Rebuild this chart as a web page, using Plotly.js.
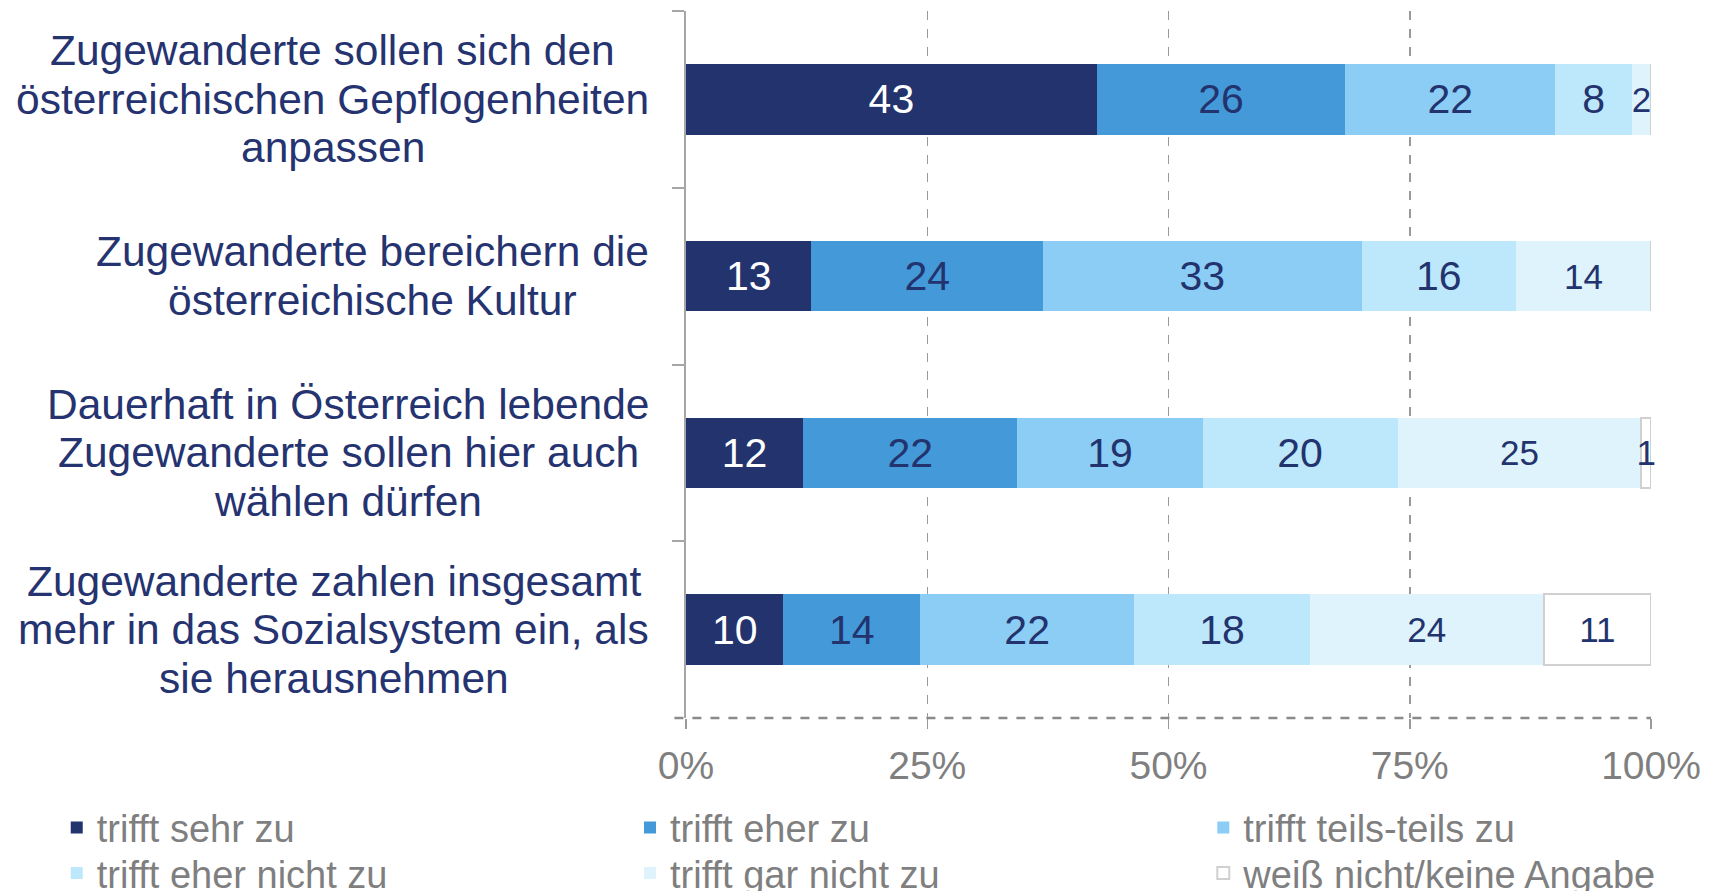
<!DOCTYPE html>
<html>
<head>
<meta charset="utf-8">
<script src="https://cdn.plot.ly/plotly-3.0.1.min.js"></script>
<style>html,body{margin:0;padding:0;background:#fff;}#chart{width:1719px;height:891px;}</style>
</head>
<body>
<div id="chart"></div>
<script>
const categories = [
  "Zugewanderte sollen sich den<br>österreichischen Gepflogenheiten<br>anpassen",
  "Zugewanderte bereichern die<br>österreichische Kultur",
  "Dauerhaft in Österreich lebende<br>Zugewanderte sollen hier auch<br>wählen dürfen",
  "Zugewanderte zahlen insgesamt<br>mehr in das Sozialsystem ein, als<br>sie herausnehmen"
];
const seriesNames = ["trifft sehr zu", "trifft eher zu", "trifft teils-teils zu", "trifft eher nicht zu", "trifft gar nicht zu", "weiß nicht/keine Angabe"];
const sehrZu      = [43, 13, 12, 10];
const eherZu      = [26, 24, 22, 14];
const teilsTeils  = [22, 33, 19, 22];
const eherNicht   = [8, 16, 20, 18];
const garNicht    = [2, 14, 25, 24];
const weissNicht  = [0, 0, 1, 11];
const xTickVals   = [0, 25, 50, 75, 100];
const xTickText   = ["0%", "25%", "50%", "75%", "100%"];

const allSeries = [sehrZu, eherZu, teilsTeils, eherNicht, garNicht, weissNicht];
const fills = ["#22336e", "#4499d9", "#8bcdf5", "#bde7fb", "#def3fc", "#ffffff"];
const lineCols = ["#22336e", "#4499d9", "#8bcdf5", "#bde7fb", "#def3fc", "#d0d0d0"];
const lineW = [0, 0, 0, 0, 0, 2];
const txtCols = ["#ffffff", "#22336e", "#22336e", "#22336e", "#22336e", "#22336e"];
const txtSizes = [41, 41, 41, 41, 35, 35];
const FONT = "Liberation Sans, Arial, sans-serif";
const CAT_SIZE = 42.5;

// legend placement: 3 columns x 2 rows, one legend per series
const legendIds = ["legend", "legend2", "legend3", "legend4", "legend5", "legend6"];
const legX = [0.033, 0.3665, 0.700, 0.033, 0.3665, 0.700];
const legY = [0.071, 0.071, 0.071, 0.020, 0.020, 0.020];

const traces = allSeries.map((vals, i) => {
  const f = {family: FONT, size: txtSizes[i], color: txtCols[i]};
  return {
    type: "bar",
    orientation: "h",
    name: seriesNames[i],
    legend: legendIds[i],
    y: categories,
    x: vals,
    text: vals.map(v => v ? String(v) : ""),
    texttemplate: "%{text}",
    textposition: "inside",
    insidetextanchor: "middle",
    textangle: 0,
    constraintext: "none",
    cliponaxis: false,
    textfont: f,
    insidetextfont: f,
    outsidetextfont: f,
    marker: {color: fills[i], line: {color: lineCols[i], width: lineW[i]}},
    hoverinfo: "skip"
  };
});

// category labels: one annotation per line (centered lines, block right-aligned)
const cv = document.createElement("canvas").getContext("2d");
cv.font = CAT_SIZE + "px 'Liberation Sans'";
const LINE_H = 48.6;
const annotations = [];
categories.forEach(c => {
  const lines = c.split("<br>");
  const maxW = Math.max(...lines.map(l => cv.measureText(l).width));
  lines.forEach((ln, k) => {
    annotations.push({
      xref: "paper", yref: "y", x: -0.038, y: c,
      xanchor: "center", yanchor: "middle", align: "center",
      xshift: -maxW / 2,
      yshift: ((lines.length - 1) / 2 - k) * LINE_H,
      text: ln, showarrow: false,
      font: {family: FONT, size: CAT_SIZE, color: "#253370"}
    });
  });
});

const layout = {
  width: 1719, height: 891,
  margin: {l: 686, r: 68, t: 11, b: 173, autoexpand: false},
  paper_bgcolor: "#ffffff", plot_bgcolor: "#ffffff",
  barmode: "stack", barnorm: "percent", bargap: 0.6,
  showlegend: true,
  xaxis: {
    // tiny headroom so float rounding of normalized stacks (e.g. 100.00000000001) is not treated as out of range
    range: [0, 100.0005], tickvals: xTickVals, ticktext: xTickText,
    showgrid: true, gridcolor: "#9a9a9a", gridwidth: 1.5, griddash: "dash",
    zeroline: false, showline: false,
    ticks: "outside", ticklen: 10, tickcolor: "#9a9a9a", tickwidth: 1.5,
    ticklabelstandoff: 3, tickangle: 0, automargin: false,
    tickfont: {family: FONT, size: 39, color: "#7f7f7f"},
    fixedrange: true
  },
  yaxis: {
    autorange: "reversed", type: "category", automargin: false,
    showticklabels: false, showgrid: false, zeroline: false,
    showline: true, linecolor: "#a6a6a6", linewidth: 2,
    ticks: "outside", tickson: "boundaries", ticklen: 12, tickcolor: "#a6a6a6", tickwidth: 2,
    fixedrange: true
  },
  shapes: [{
    type: "line", xref: "paper", yref: "paper", x0: -0.012, x1: 1, y0: 0, y1: 0,
    line: {color: "#8a8a8a", width: 2.5, dash: "dash"}
  }],
  annotations: annotations
};

legendIds.forEach((id, i) => {
  layout[id] = {
    orientation: "h", xref: "container", yref: "container",
    x: legX[i], y: legY[i], xanchor: "left", yanchor: "middle",
    font: {family: FONT, size: 38, color: "#7f7f7f"},
    itemclick: false, itemdoubleclick: false,
    bgcolor: "rgba(0,0,0,0)", borderwidth: 0
  };
});

Plotly.newPlot("chart", traces, layout, {displayModeBar: false, staticPlot: true});
</script>
</body>
</html>
